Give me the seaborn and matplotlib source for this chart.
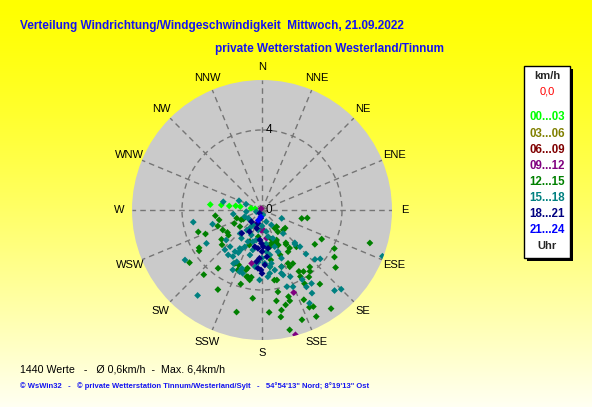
import numpy as np
import pandas as pd
import matplotlib
matplotlib.use('Agg')
import matplotlib.pyplot as plt
import seaborn as sns
from matplotlib.patches import Rectangle

# wind direction (deg, 0 = N, clockwise) and speed (km/h), per hour group
dir_00_03 = [276, 277, 277, 279, 279, 279, 280]
spd_00_03 = [2.6, 2.05, 1.65, 1.33, 1.1, 0.56, 0.35]

dir_09_12 = [330, 206, 201, 176, 182, 171, 191, 159, 165]
spd_09_12 = [0.08, 0.8, 0.8, 1.0, 1.02, 1.43, 2.72, 4.42, 6.46]

dir_12_15 = [263, 257, 250, 243, 251, 247, 239, 237, 234, 217, 222, 237, 233, 229,
             234, 252, 244, 244, 233, 201, 200, 202, 193, 189, 209, 196, 186, 194,
             176, 192, 190, 194, 203, 207, 116, 123, 118, 123, 128, 145, 144, 158,
             154, 150, 154, 146, 140, 142, 145, 142, 150, 168, 169, 163, 163, 171,
             166, 155, 152, 145, 150, 149, 107, 102, 100, 153, 154, 160, 167, 169,
             170, 128, 139, 144, 137, 155, 148, 168, 172, 170, 133, 145, 144, 156,
             170, 161, 188, 245, 168, 195, 154, 164, 162, 161]
spd_12_15 = [2.35, 2.2, 2.35, 2.2, 3.37, 3.07, 3.67, 3.75, 4.48, 3.65, 4.35, 2.06, 2.1, 2.65,
             2.5, 1.33, 1.54, 1.04, 1.38, 1.7, 1.86, 3.24, 3.42, 3.4, 4.55, 3.85, 4.44, 5.26,
             5.13, 3.41, 3.55, 3.0, 2.98, 3.0, 3.32, 3.15, 4.1, 4.32, 4.67, 2.1, 2.35, 2.42,
             2.97, 3.09, 3.16, 3.71, 3.72, 3.89, 4.09, 4.7, 4.25, 3.58, 4.17, 4.53, 4.75, 4.6,
             4.89, 4.95, 5.47, 6.02, 3.84, 3.58, 5.64, 2.03, 2.3, 5.98, 5.41, 5.84, 6.15, 5.1,
             5.43, 1.47, 1.11, 2.03, 2.52, 1.93, 2.46, 1.88, 2.86, 3.56, 1.46, 1.11, 1.35, 1.74,
             2.54, 3.0, 1.35, 1.15, 1.79, 3.1, 1.67, 1.73, 1.54, 1.76]

dir_15_18 = [260, 237, 239, 254, 282, 230, 223, 221, 212, 292, 290, 262, 223, 213,
             200, 208, 206, 239, 217, 217, 217, 209, 208, 206, 197, 199, 182, 173,
             175, 136, 134, 135, 133, 130, 163, 157, 150, 146, 150, 149, 135, 138,
             162, 158, 168, 161, 153, 170, 111, 113, 138, 135, 167, 162, 264, 249,
             231, 211, 203, 204, 205, 193, 195, 174, 170, 177, 187, 172, 161, 159,
             159, 158, 148, 160, 216, 210, 196, 169, 169, 253, 191, 180, 191, 180,
             184, 173, 214]
spd_15_18 = [3.49, 4.59, 3.24, 2.57, 1.98, 2.34, 2.72, 2.43, 2.74, 1.24, 0.85, 1.45, 1.6, 2.48,
             3.28, 2.23, 2.88, 0.8, 1.26, 5.35, 2.81, 2.44, 3.03, 3.33, 3.31, 3.09, 3.5, 3.19,
             3.35, 2.37, 2.64, 3.11, 3.62, 3.8, 3.31, 3.62, 4.02, 4.43, 4.44, 4.85, 5.6, 5.42,
             4.03, 4.14, 3.07, 3.0, 5.23, 2.71, 6.45, 1.07, 1.58, 2.32, 1.37, 3.42, 0.79, 0.93,
             0.79, 0.87, 1.36, 1.73, 2.03, 2.05, 2.33, 2.1, 2.28, 2.67, 2.86, 2.86, 1.94, 1.52,
             2.23, 2.6, 0.88, 0.62, 1.75, 2.22, 1.65, 1.1, 0.25, 0.3, 1.02, 0.8, 1.53, 2.4,
             2.61, 1.71, 1.08]

dir_18_21 = [215, 189, 197, 221, 210, 184, 181, 191, 186, 178, 183, 186, 184, 181,
             171, 222, 196, 180, 177, 174, 180]
spd_18_21 = [0.2, 0.42, 0.69, 1.54, 1.25, 1.5, 1.67, 1.87, 1.93, 1.84, 2.42, 2.6, 2.92, 3.0,
             1.94, 0.79, 0.95, 2.08, 2.75, 2.35, 3.17]

dir_21_24 = [190, 200]
spd_21_24 = [0.35, 0.55]

hour_labels = ['00...03', '03...06', '06...09', '09...12',
               '12...15', '15...18', '18...21', '21...24']
hour_colors = ['#00FF00', '#808000', '#800000', '#800080',
               '#008000', '#008080', '#000080', '#0000FF']
compass = ['N', 'NNE', 'NE', 'ENE', 'E', 'ESE', 'SE', 'SSE',
           'S', 'SSW', 'SW', 'WSW', 'W', 'WNW', 'NW', 'NNW']

W, H = 592, 407


def fx(x):
    return x / W


def fy(y):
    return 1 - y / H


groups = [('00...03', dir_00_03, spd_00_03), ('09...12', dir_09_12, spd_09_12),
          ('12...15', dir_12_15, spd_12_15), ('15...18', dir_15_18, spd_15_18),
          ('18...21', dir_18_21, spd_18_21), ('21...24', dir_21_24, spd_21_24)]
df = pd.concat([pd.DataFrame({'dir': d, 'speed': s, 'hour': h}) for h, d, s in groups],
               ignore_index=True)
df['theta'] = np.deg2rad(df['dir'])

sns.set_style('white')
plt.rcParams['font.family'] = ['Liberation Sans', 'DejaVu Sans']

fig = plt.figure(figsize=(W / 100, H / 100), dpi=100)

# yellow background gradient
bg = fig.add_axes([0, 0, 1, 1])
grad = np.linspace(0, 1, 256)
img = np.zeros((256, 2, 3))
img[:, :, 0] = 1
img[:, :, 1] = 1
img[:, :, 2] = (grad ** 1.3 * 0.95)[:, None]
bg.imshow(img, aspect='auto', extent=[0, 1, 1, 0])
bg.set_xlim(0, 1)
bg.set_ylim(1, 0)
bg.axis('off')

cx, cy, R = 262, 210, 130
ax = fig.add_axes([fx(cx - R), fy(cy + R), 2 * R / W, 2 * R / H], projection='polar')
ax.set_facecolor('#CACACA')
ax.set_theta_zero_location('N')
ax.set_theta_direction(-1)
ax.set_ylim(0, 6.5)
ax.set_xticks(np.deg2rad(np.arange(0, 360, 22.5)))
ax.set_xticklabels([])
ax.set_yticks([4])
ax.set_yticklabels([])
ax.grid(True, color='#757575', linestyle=(0, (4, 3)), linewidth=1)
ax.spines['polar'].set_visible(False)

sns.scatterplot(data=df, x='theta', y='speed', hue='hour',
                palette=dict(zip(hour_labels, hour_colors)), marker='D', s=12,
                linewidth=0, legend=False, ax=ax, zorder=3)
ax.set_xlabel('')
ax.set_ylabel('')

ax.annotate('4', xy=(0, 4), xytext=(2.5, 0), textcoords='offset points',
            ha='left', va='center', fontsize=8.5, color='black')
ax.annotate('0', xy=(0, 0), xytext=(2.5, 0), textcoords='offset points',
            ha='left', va='center', fontsize=8.5, color='black', zorder=4)

for i, lab in enumerate(compass):
    ax.text(np.deg2rad(i * 22.5), 7.15, lab, ha='center', va='center',
            fontsize=8, color='black')

blue = '#1414F0'
fig.text(fx(20), fy(26), 'Verteilung Windrichtung/Windgeschwindigkeit  Mittwoch, 21.09.2022',
         color=blue, fontsize=8.5, fontweight='bold', ha='left', va='center')
fig.text(fx(215), fy(49), 'private Wetterstation Westerland/Tinnum',
         color=blue, fontsize=8.5, fontweight='bold', ha='left', va='center')
fig.text(fx(20), fy(370), '1440 Werte   -   Ø 0,6km/h  -  Max. 6,4km/h',
         color='black', fontsize=7.7, ha='left', va='center')
fig.text(fx(20), fy(386),
         '© WsWin32   -   © private Wetterstation Tinnum/Westerland/Sylt   -   '
         '54°54\'13" Nord; 8°19\'13" Ost',
         color=blue, fontsize=5.5, fontweight='bold', ha='left', va='center')

# legend box with shadow
bx0, by0, bx1, by1 = 524, 66, 570, 258
fig.add_artist(Rectangle((fx(bx0 + 3), fy(by1 + 3)), (bx1 - bx0) / W, (by1 - by0) / H,
                         transform=fig.transFigure, facecolor='black', edgecolor='none'))
fig.add_artist(Rectangle((fx(bx0), fy(by1)), (bx1 - bx0) / W, (by1 - by0) / H,
                         transform=fig.transFigure, facecolor='white', edgecolor='black',
                         linewidth=1))
lx = 547
fig.text(fx(lx), fy(76), 'km/h', fontsize=8, fontweight='bold', ha='center', va='center')
fig.text(fx(lx), fy(91), '0,0', fontsize=8, color='#FF0000', ha='center', va='center')
legend_y = [117, 134, 150, 166, 182, 198, 214, 230]
for lab, col, yy in zip(hour_labels, hour_colors, legend_y):
    fig.text(fx(lx), fy(yy), lab, fontsize=8.3, fontweight='bold', color=col,
             ha='center', va='center')
fig.text(fx(lx), fy(246), 'Uhr', fontsize=8, fontweight='bold', ha='center', va='center')

fig.savefig('out.png', dpi=100)
